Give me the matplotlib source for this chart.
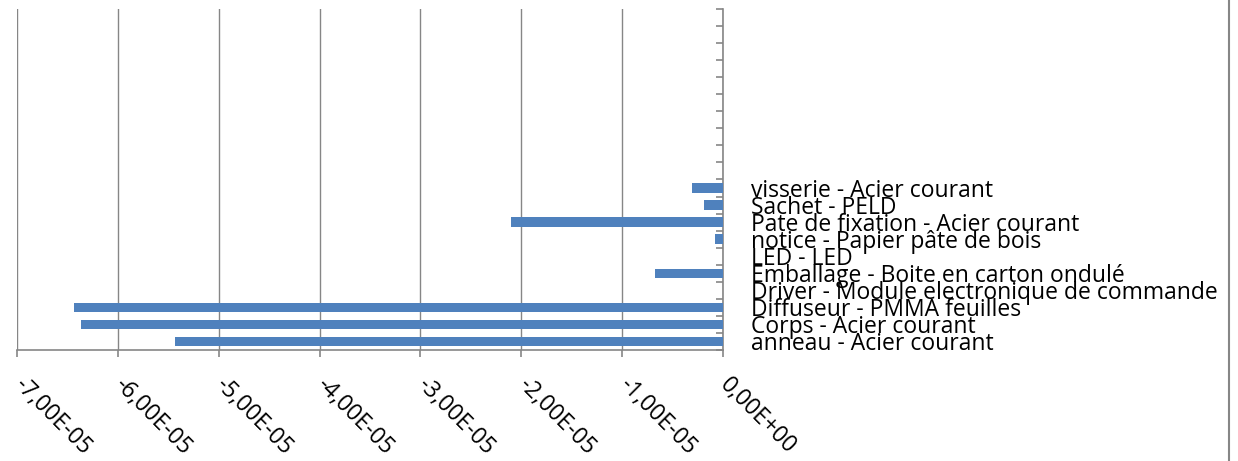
import numpy as np
import matplotlib
matplotlib.use('Agg')
from matplotlib import pyplot as plt
from matplotlib.ticker import FuncFormatter
from matplotlib.lines import Line2D

plt.rcParams['font.family'] = ['Open Sans', 'DejaVu Sans']

# bottom to top, 20 category slots (top 10 empty)
labels = ['anneau - Acier courant', 'Corps - Acier courant', 'Diffuseur - PMMA feuilles',
          'Driver - Module electronique de commande', 'Emballage - Boite en carton ondulé',
          'LED - LED', 'notice - Papier pâte de bois', 'Pate de fixation - Acier courant',
          'Sachet - PELD', 'visserie - Acier courant'] + [''] * 10
values = [-5.43e-05, -6.37e-05, -6.43e-05, 0.0, -6.7e-06,
          0.0, -8e-07, -2.10e-05, -1.9e-06, -3.1e-06] + [np.nan] * 10

fig = plt.figure(figsize=(12.38, 4.61), dpi=100)
ax = fig.add_axes([17 / 1238, 111 / 461, 706 / 1238, 341 / 461])

y = np.arange(len(labels))
ax.barh(y, values, height=0.55, color='#4F81BD', zorder=3)

ax.set_xlim(-7e-05, 0)
ax.set_ylim(-0.5, len(labels) - 0.5)
ax.set_xticks(np.arange(-7, 1) * 1e-05)
ax.xaxis.set_major_formatter(FuncFormatter(lambda v, p: f"{v:.2E}".replace('.', ',').replace('-0,00', '0,00')))
ax.grid(axis='x', color='#868686', linewidth=1)

for s in ['top', 'left']:
    ax.spines[s].set_visible(False)
for s in ['right', 'bottom']:
    ax.spines[s].set_color('#868686')
    ax.spines[s].set_linewidth(1.2)

ax.yaxis.tick_right()
ax.set_yticks(y)
ax.set_yticklabels(labels)
ax.set_yticks(np.arange(len(labels) + 1) - 0.5, minor=True)
ax.tick_params(axis='y', which='major', length=0, pad=20, labelsize=16.5)
ax.tick_params(axis='y', which='minor', direction='in', length=5, color='#868686', width=1.2)
ax.tick_params(axis='x', length=5, color='#868686', width=1.2, labelsize=16.5, pad=18)
for t in ax.get_xticklabels():
    t.set_rotation(-45)
    t.set_ha('left')
    t.set_va('center')
    t.set_rotation_mode('anchor')

fig.add_artist(Line2D([1229 / 1238, 1229 / 1238], [0, 1], color='#868686', linewidth=1.5))

fig.savefig('out.png', dpi=100)
